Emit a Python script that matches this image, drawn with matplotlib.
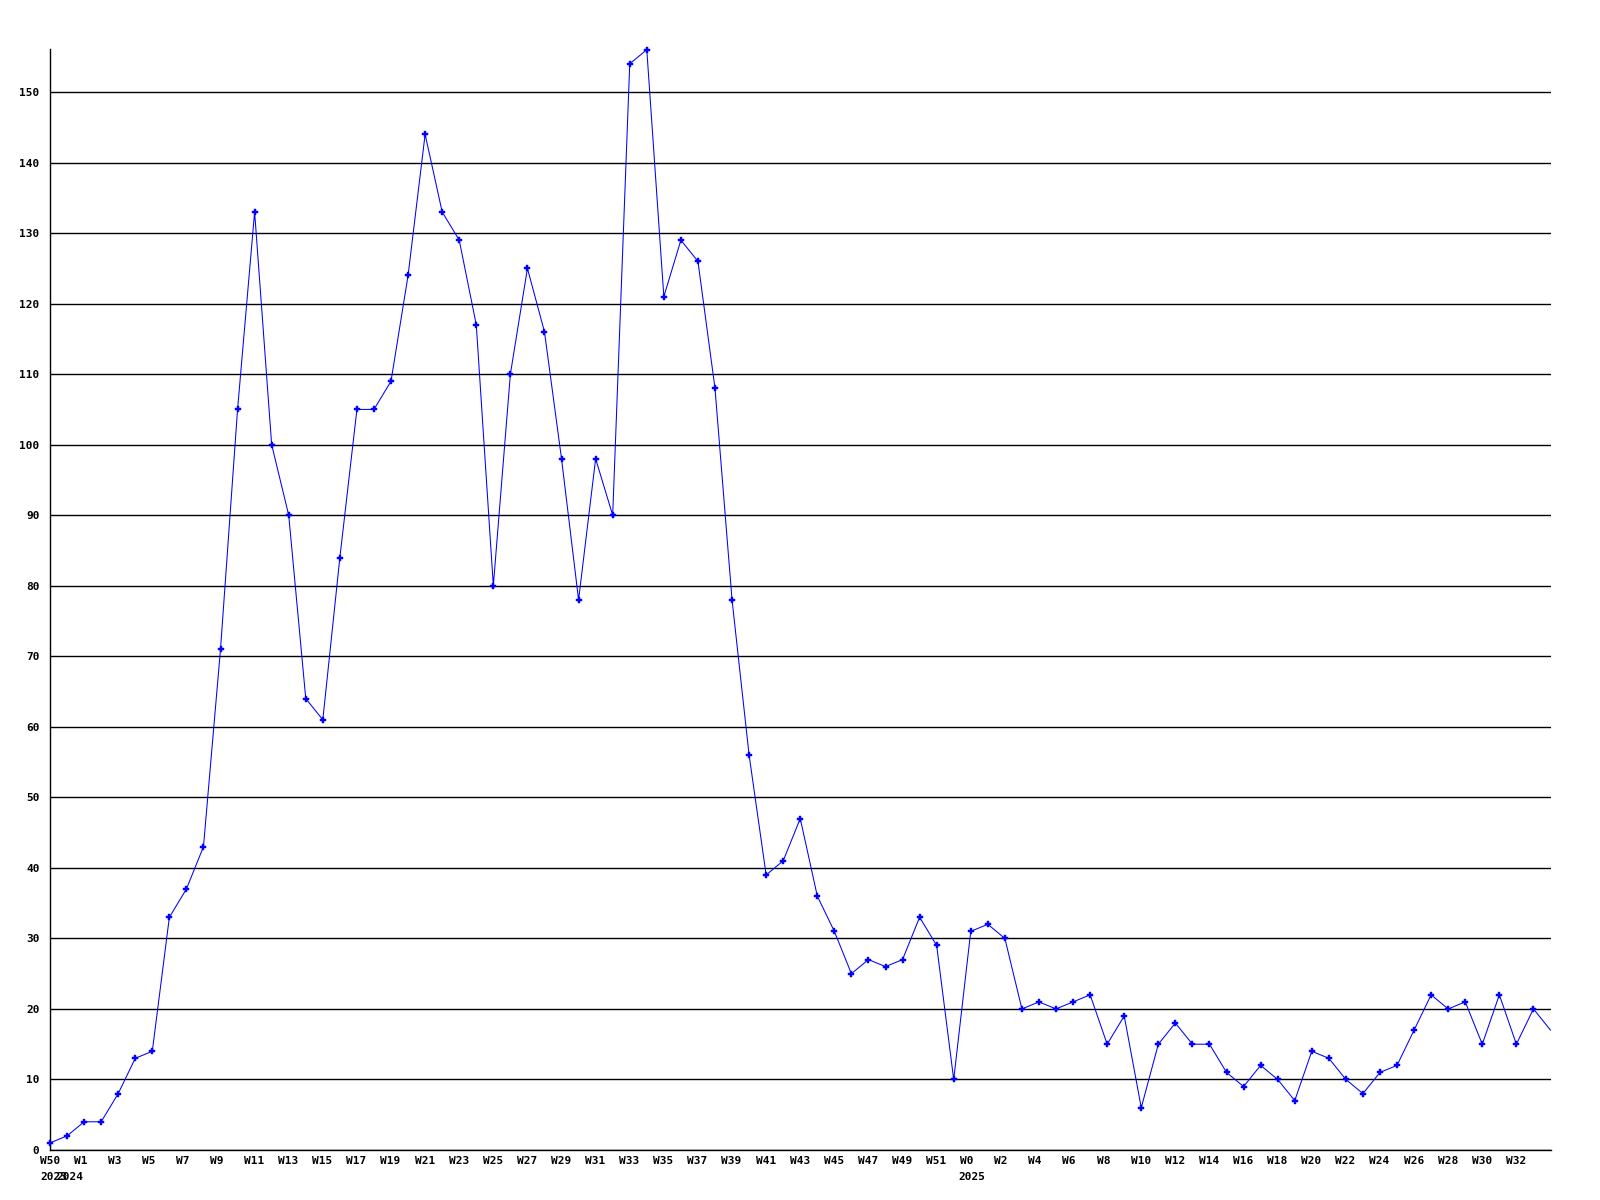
import matplotlib
matplotlib.use("Agg")
import matplotlib.pyplot as plt
import matplotlib.transforms as mtransforms

# weekly values, first point = W50 2023
values = [1, 2, 4, 4, 8, 13, 14, 33, 37, 43,
          71, 105, 133, 100, 90, 64, 61, 84, 105, 105,
          109, 124, 144, 133, 129, 117, 80, 110, 125, 116,
          98, 78, 98, 90, 154, 156, 121, 129, 126, 108,
          78, 56, 39, 41, 47, 36, 31, 25, 27, 26,
          27, 33, 29, 10, 31, 32, 30, 20, 21, 20,
          21, 22, 15, 19, 6, 15, 18, 15, 15, 11,
          9, 12, 10, 7, 14, 13, 10, 8, 11, 12,
          17, 22, 20, 21, 15, 22, 15, 20, 17]

# x tick labels (every two weeks)
week_labels = (["W50"] + ["W%d" % w for w in range(1, 52, 2)]
               + ["W%d" % w for w in range(0, 33, 2)])
year_labels = ["2023", "2024", "2025"]

x = list(range(len(values)))

FONT = dict(family="DejaVu Sans Mono", fontweight="bold", fontsize=8)

fig = plt.figure(figsize=(16, 12), dpi=100)
ax = fig.add_axes([50 / 1600, 50 / 1200, 1500.5 / 1600, 1101 / 1200])

ax.plot(x, values, color="#0000ff", lw=0.75, marker="P", ms=4,
        mec="#0000ff", mfc="#0000ff", mew=0.3, clip_on=False,
        markevery=slice(0, len(values) - 1), zorder=3)

ax.set_xlim(0, len(values) - 1)
ax.set_ylim(0, 156.1)

ax.set_yticks(range(0, 151, 10))
ax.set_yticklabels([str(v) for v in range(0, 151, 10)], **FONT)
ax.tick_params(axis="y", length=0, pad=7.5)
ax.set_xticks([])
ax.yaxis.grid(True, color="black", lw=1.0)
ax.set_axisbelow(True)

for s in ("top", "right"):
    ax.spines[s].set_visible(False)
for s in ("left", "bottom"):
    ax.spines[s].set_linewidth(1.0)
    ax.spines[s].set_color("black")

# week labels, left-aligned at their week position
trans = mtransforms.blended_transform_factory(ax.transData, ax.transAxes)
dy = -10.5 / 1101
dy2 = -26.5 / 1101
positions = [-0.58] + [1.38 + 2 * k for k in range(len(week_labels) - 1)]
for pos, lab in zip(positions, week_labels):
    ax.text(pos, dy, lab, transform=trans, ha="left", va="center",
            clip_on=False, **FONT)

year_pos = [-0.58, 0.37, 53.3]
for pos, lab in zip(year_pos, year_labels):
    ax.text(pos, dy2, lab, transform=trans, ha="left", va="center",
            clip_on=False, **FONT)

fig.savefig("out.png", dpi=100)
